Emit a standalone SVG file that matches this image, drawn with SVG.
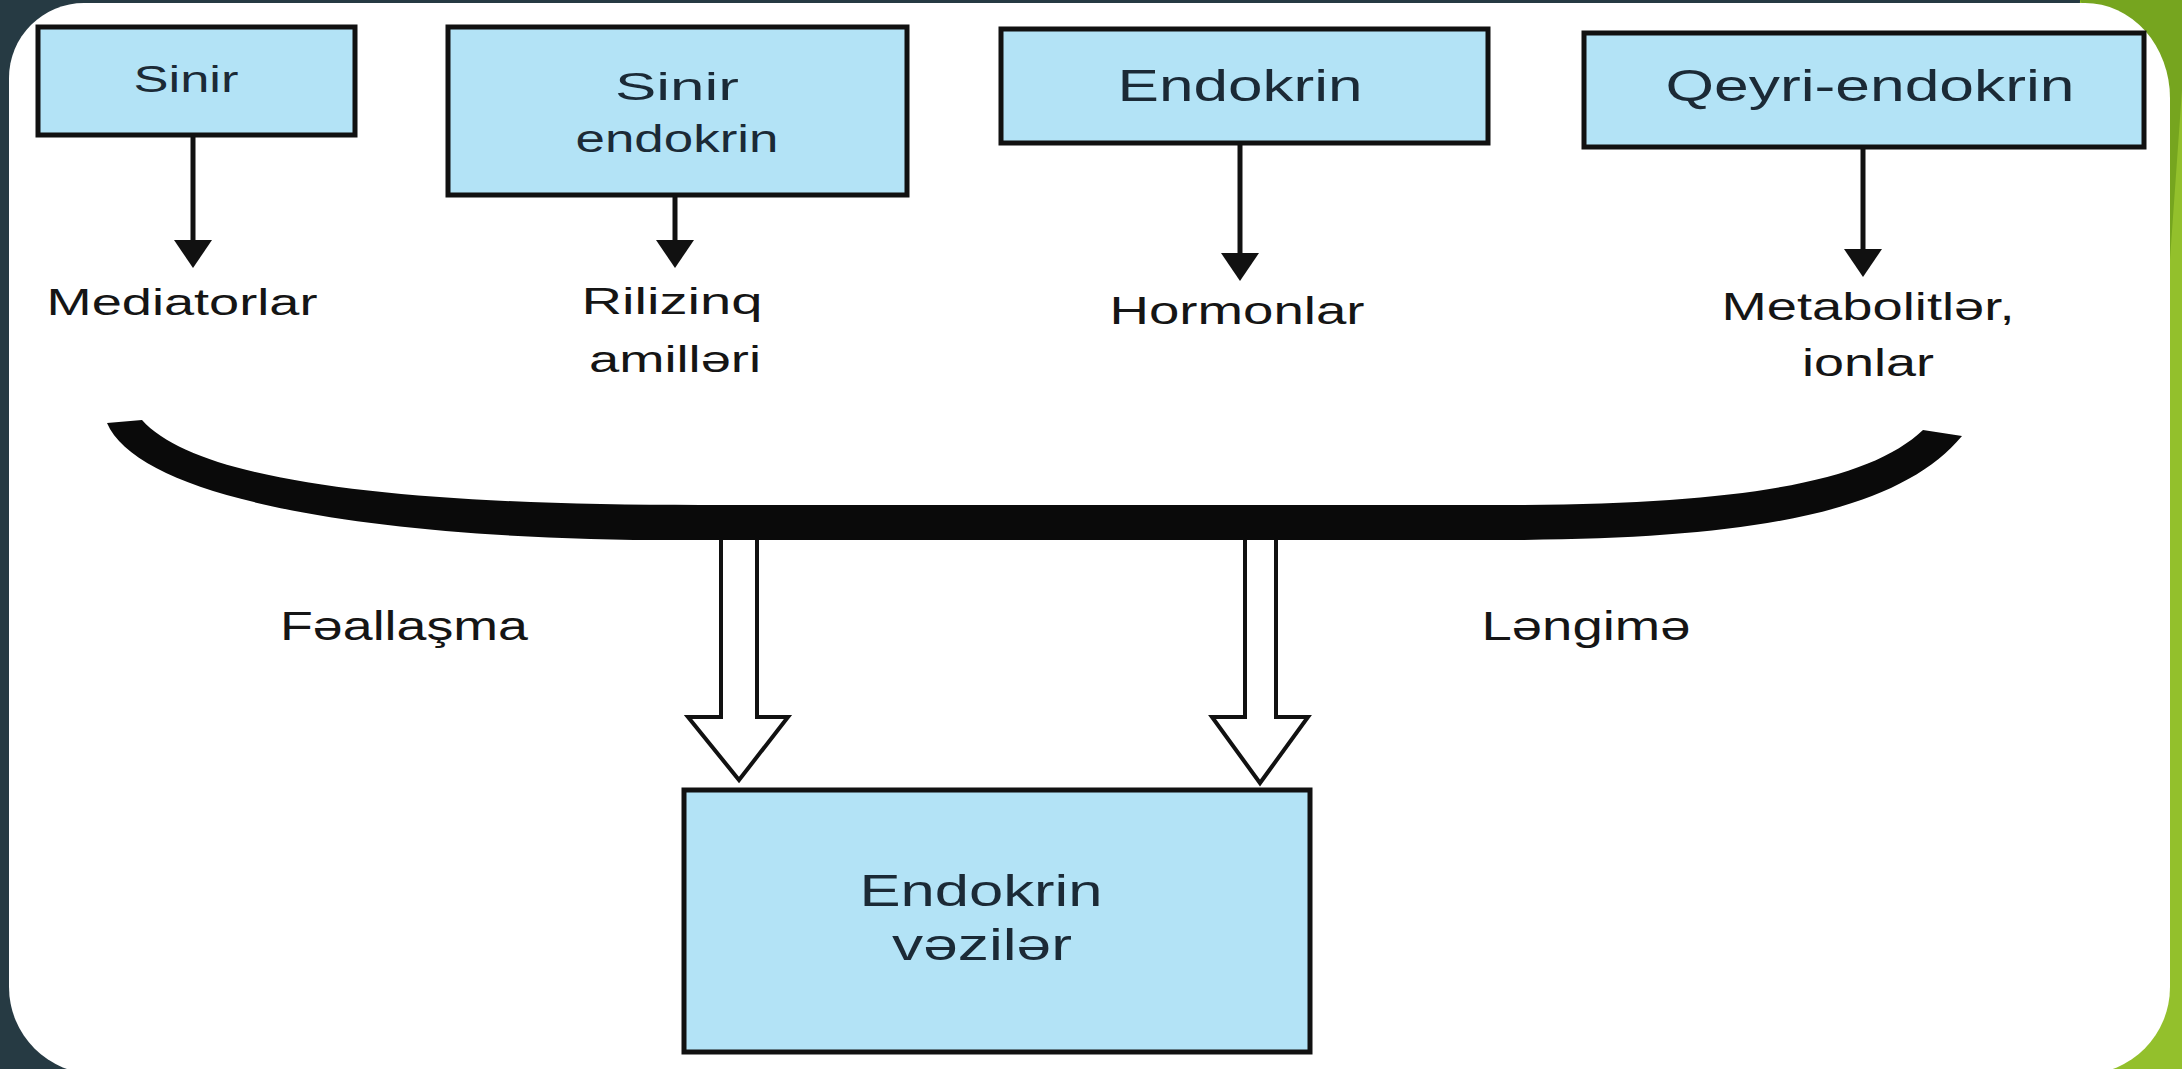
<svg xmlns="http://www.w3.org/2000/svg" width="2182" height="1069" viewBox="0 0 2182 1069">
<style>
.box{fill:#b3e3f6;stroke:#111;stroke-width:5}
.bl{font-family:"Liberation Sans",Arial,sans-serif;fill:#1b2a36;text-anchor:middle}
.ol{font-family:"Liberation Sans",Arial,sans-serif;fill:#151515;text-anchor:middle}
.thin{stroke:#111;stroke-width:5;fill:none}
.hollow{fill:#fff;stroke:#111;stroke-width:4;stroke-linejoin:miter}
</style>
<defs>
<marker id="ah" markerUnits="userSpaceOnUse" viewBox="0 -19 28 38" markerWidth="28" markerHeight="38" refX="1" refY="0" orient="auto">
<path d="M0,-19 L28,0 L0,19 Z" fill="#111"/>
</marker>
</defs>
<g id="background">
<rect x="0" y="0" width="2182" height="1069" fill="#263a43"/>
<path d="M2080,0 L2182,0 L2182,1069 L2060,1069 L2060,900 Z" fill="#93c02c"/>
<path d="M2080,0 L2182,0 L2182,90 L2165,330 L2150,120 Z" fill="#76a51f"/>
<path d="M84,3 L2085,3 A85,95 0 0 1 2170,98 L2170,987 A86,87 0 0 1 2084,1074 L96,1074 A87,87 0 0 1 9,987 L9,78 A75,75 0 0 1 84,3 Z" fill="#fff"/>
</g>
<g id="connectors">
<line class="thin" x1="193" y1="136" x2="193" y2="241" marker-end="url(#ah)"/>
<line class="thin" x1="675" y1="195" x2="675" y2="241" marker-end="url(#ah)"/>
<line class="thin" x1="1240" y1="143" x2="1240" y2="254" marker-end="url(#ah)"/>
<line class="thin" x1="1863" y1="148" x2="1863" y2="250" marker-end="url(#ah)"/>
<polygon class="hollow" points="721,530 757,530 757,717 788,717 739,780 688,717 721,717"/>
<polygon class="hollow" points="1245,530 1276,530 1276,717 1308,717 1260,783 1212,717 1245,717"/>
<path id="bracket" d="M107,423 C140,500 380,542 700,540 L1500,540 C1760,540 1900,510 1962,436 L1923,430 C1870,480 1750,505 1500,505 L700,505 C420,505 200,485 142,420 Z" fill="#0a0a0a"/>
</g>
<g id="node-sinir">
<rect class="box" x="38" y="27" width="317" height="108"/>
<text class="bl" x="186" y="92" font-size="36" textLength="105" lengthAdjust="spacingAndGlyphs">Sinir</text>
</g>
<g id="node-sinir-endokrin">
<rect class="box" x="448" y="27" width="459" height="168"/>
<text class="bl" x="677" y="100" font-size="39" textLength="124" lengthAdjust="spacingAndGlyphs">Sinir</text>
<text class="bl" x="677" y="152" font-size="39" textLength="203" lengthAdjust="spacingAndGlyphs">endokrin</text>
</g>
<g id="node-endokrin">
<rect class="box" x="1001" y="29" width="487" height="114"/>
<text class="bl" x="1240" y="101" font-size="44" textLength="245" lengthAdjust="spacingAndGlyphs">Endokrin</text>
</g>
<g id="node-qeyri">
<rect class="box" x="1584" y="33" width="560" height="114"/>
<text class="bl" x="1870" y="101" font-size="44" textLength="409" lengthAdjust="spacingAndGlyphs">Qeyri-endokrin</text>
</g>
<g id="node-vezi">
<rect class="box" x="684" y="790" width="626" height="262"/>
<text class="bl" x="981" y="906" font-size="44" textLength="243" lengthAdjust="spacingAndGlyphs">Endokrin</text>
<text class="bl" x="982" y="960" font-size="44" textLength="180" lengthAdjust="spacingAndGlyphs">vəzilər</text>
</g>
<g id="labels">
<text class="ol" x="182" y="315" font-size="36" textLength="271" lengthAdjust="spacingAndGlyphs">Mediatorlar</text>
<text class="ol" x="672" y="314" font-size="36" textLength="181" lengthAdjust="spacingAndGlyphs">Rilizinq</text>
<text class="ol" x="675" y="372" font-size="36" textLength="172" lengthAdjust="spacingAndGlyphs">amilləri</text>
<text class="ol" x="1237" y="324" font-size="38" textLength="255" lengthAdjust="spacingAndGlyphs">Hormonlar</text>
<text class="ol" x="1868" y="320" font-size="38" textLength="293" lengthAdjust="spacingAndGlyphs">Metabolitlər,</text>
<text class="ol" x="1868" y="376" font-size="38" textLength="132" lengthAdjust="spacingAndGlyphs">ionlar</text>
<text class="ol" x="404" y="640" font-size="41" textLength="248" lengthAdjust="spacingAndGlyphs">Fəallaşma</text>
<text class="ol" x="1586" y="640" font-size="41" textLength="209" lengthAdjust="spacingAndGlyphs">Ləngimə</text>
</g>
</svg>
